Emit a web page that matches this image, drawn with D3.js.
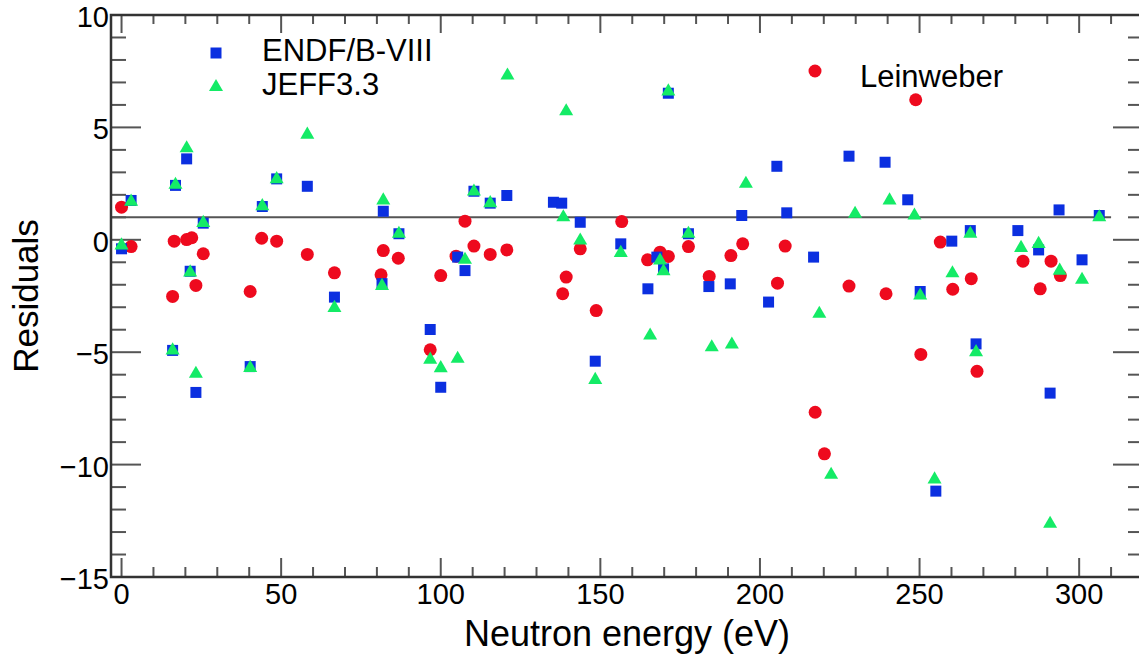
<!DOCTYPE html>
<html>
<head>
<meta charset="utf-8">
<script src="https://cdn.jsdelivr.net/npm/d3@7"></script>
<style>
  html, body { margin: 0; padding: 0; background: #fff; }
  svg { display: block; font-family: "Liberation Sans", Arial, Helvetica, sans-serif; }
</style>
</head>
<body>
<div id="chart"></div>
<script>
// ENDF/B-VIII residuals
const endfEnergy = [0.0, 3.0, 16.0, 16.9, 20.4, 21.5, 23.3, 25.6, 40.3, 44.1, 48.6, 58.2, 66.7, 81.6, 82.0, 86.9,
  96.7, 100.0, 105.3, 107.6, 110.4, 115.5, 120.7, 135.3, 137.9, 143.7, 148.4, 156.4, 164.9, 167.7, 169.8, 171.3,
  177.6, 184.0, 190.7, 194.3, 202.7, 205.3, 208.4, 216.8, 227.9, 239.2, 246.3, 250.2, 255.1, 260.1, 265.9, 267.7,
  280.8, 287.3, 290.9, 293.7, 300.9, 306.3];
const endfRes = [-0.4, 1.75, -4.92, 2.42, 3.6, -1.4, -6.79, 0.74, -5.64, 1.48, 2.71, 2.38, -2.55, -1.95, 1.27, 0.27,
  -3.99, -6.56, -0.77, -1.37, 2.16, 1.63, 1.97, 1.67, 1.63, 0.78, -5.4, -0.18, -2.18, -0.77, -1.29, 6.52,
  0.27, -2.08, -1.96, 1.08, -2.77, 3.27, 1.2, -0.77, 3.72, 3.45, 1.78, -2.3, -11.18, -0.06, 0.41, -4.63,
  0.41, -0.45, -6.82, 1.33, -0.89, 1.08];

// JEFF3.3 residuals
const jeffEnergy = [0.0, 3.0, 16.0, 16.9, 20.4, 21.5, 23.3, 25.6, 40.3, 44.1, 48.6, 58.2, 66.7, 81.6, 82.0, 86.9,
  96.7, 100.0, 105.3, 107.6, 110.4, 115.5, 120.9, 138.4, 139.3, 143.7, 148.4, 156.4, 165.6, 168.7, 169.8, 171.3,
  177.6, 184.9, 191.2, 195.6, 218.6, 222.3, 229.8, 240.6, 248.4, 250.2, 254.7, 260.3, 265.9, 267.7,
  281.8, 287.3, 290.9, 293.9, 300.9, 306.3];
const jeffRes = [-0.25, 1.7, -4.92, 2.45, 4.07, -1.45, -5.96, 0.75, -5.7, 1.5, 2.7, 4.68, -3.03, -2.05, 1.75, 0.27,
  -5.33, -5.71, -5.29, -0.89, 2.15, 1.63, 7.31, 1.0, 5.72, -0.03, -6.23, -0.58, -4.26, -0.92, -1.4, 6.6,
  0.27, -4.78, -4.66, 2.49, -3.29, -10.45, 1.16, 1.75, 1.08, -2.48, -10.66, -1.49, 0.27, -5.0,
  -0.36, -0.18, -12.63, -1.37, -1.78, 1.0];

// Leinweber residuals
const leinEnergy = [0.0, 3.0, 16.0, 16.5, 20.4, 22.0, 23.3, 25.6, 40.3, 43.9, 48.6, 58.2, 66.7, 81.3, 82.0, 86.7,
  96.7, 100.0, 104.8, 107.6, 110.4, 115.5, 120.7, 138.2, 139.3, 143.7, 148.7, 156.7, 164.8, 168.7, 171.3,
  177.6, 184.1, 190.9, 194.6, 205.5, 207.9, 217.3, 220.2, 227.9, 239.5, 248.8, 250.4, 256.5, 260.4, 266.2, 268.0,
  282.4, 287.8, 291.2, 294.1];
const leinRes = [1.45, -0.3, -2.52, -0.06, 0.01, 0.09, -2.03, -0.62, -2.3, 0.07, -0.06, -0.65, -1.47, -1.56, -0.48, -0.82,
  -4.89, -1.59, -0.73, 0.83, -0.28, -0.65, -0.45, -2.4, -1.66, -0.4, -3.15, 0.81, -0.89, -0.55, -0.74,
  -0.3, -1.63, -0.7, -0.18, -1.93, -0.28, -7.67, -9.52, -2.06, -2.4, 6.23, -5.1, -0.1, -2.2, -1.73, -5.85,
  -0.95, -2.18, -0.95, -1.59];

const xTicks = [0, 50, 100, 150, 200, 250, 300];
const yTicks = [-15, -10, -5, 0, 5, 10];
const refLevel = 1;

const W = 1139, H = 660;
const frameL = 111, frameR = 1143, frameT = 15, frameB = 577;

const x = d3.scaleLinear().domain([-3.3, 320]).range([frameL, frameR]);
const y = d3.scaleLinear().domain([-15, 10]).range([frameB, frameT]);

const svg = d3.select("#chart").append("svg").attr("width", W).attr("height", H);

const axisColor = "#333";
const tickColor = "#555";

// reference line
svg.append("line")
  .attr("x1", frameL).attr("x2", x(310))
  .attr("y1", y(refLevel)).attr("y2", y(refLevel))
  .attr("stroke", "#555").attr("stroke-width", 2);

// ticks on all four sides
const xMinor = d3.range(10, 320, 10).filter(v => v % 50 !== 0);
const tickG = svg.append("g").attr("stroke", tickColor).attr("stroke-width", 2);
xTicks.forEach(v => {
  tickG.append("line").attr("x1", x(v)).attr("x2", x(v)).attr("y1", frameB).attr("y2", frameB - 19);
  tickG.append("line").attr("x1", x(v)).attr("x2", x(v)).attr("y1", frameT).attr("y2", frameT + 18);
});
xMinor.forEach(v => {
  tickG.append("line").attr("x1", x(v)).attr("x2", x(v)).attr("y1", frameB).attr("y2", frameB - 10);
  tickG.append("line").attr("x1", x(v)).attr("x2", x(v)).attr("y1", frameT).attr("y2", frameT + 9);
});
const yMinor = d3.range(-14, 10, 1).filter(v => v % 5 !== 0);
yTicks.forEach(v => {
  tickG.append("line").attr("x1", frameL).attr("x2", frameL + 30).attr("y1", y(v)).attr("y2", y(v));
  tickG.append("line").attr("x1", frameR).attr("x2", frameR - 30).attr("y1", y(v)).attr("y2", y(v));
});
yMinor.forEach(v => {
  tickG.append("line").attr("x1", frameL).attr("x2", frameL + 15).attr("y1", y(v)).attr("y2", y(v));
  tickG.append("line").attr("x1", frameR).attr("x2", frameR - 15).attr("y1", y(v)).attr("y2", y(v));
});

// frame
svg.append("rect")
  .attr("x", frameL).attr("y", frameT)
  .attr("width", frameR - frameL).attr("height", frameB - frameT)
  .attr("fill", "none").attr("stroke", axisColor).attr("stroke-width", 2.5);

// tick labels
svg.append("g").selectAll("text").data(xTicks).enter().append("text")
  .attr("x", d => x(d)).attr("y", 604)
  .attr("text-anchor", "middle").attr("font-size", 29).attr("fill", "#000")
  .text(d => d);

svg.append("g").selectAll("text").data(yTicks).enter().append("text")
  .attr("x", 109).attr("y", d => y(d) + 12)
  .attr("text-anchor", "end").attr("font-size", 29).attr("fill", "#000")
  .text(d => d < 0 ? "\u2212" + Math.abs(d) : d);

// axis titles
svg.append("text")
  .attr("x", 627).attr("y", 646)
  .attr("text-anchor", "middle").attr("font-size", 36)
  .text("Neutron energy (eV)");

svg.append("text")
  .attr("transform", "translate(38,296) rotate(-90)")
  .attr("text-anchor", "middle").attr("font-size", 35)
  .text("Residuals");

// markers
const red = "#ee0a1e", blue = "#0b2fe0", green = "#14eb66";
const sq = d3.symbol().type(d3.symbolSquare).size(121);
const tri = d3.symbol().type(d3.symbolTriangle).size(85);

const plot = svg.append("g");

plot.selectAll("circle.lein").data(leinEnergy).enter().append("circle")
  .attr("class", "lein")
  .attr("cx", d => x(d)).attr("cy", (d, i) => y(leinRes[i]))
  .attr("r", 6.5).attr("fill", red);

plot.selectAll("path.endf").data(endfEnergy).enter().append("path")
  .attr("class", "endf")
  .attr("d", sq)
  .attr("transform", (d, i) => `translate(${x(d)},${y(endfRes[i])})`)
  .attr("fill", blue);

plot.selectAll("path.jeff").data(jeffEnergy).enter().append("path")
  .attr("class", "jeff")
  .attr("d", tri)
  .attr("transform", (d, i) => `translate(${x(d)},${y(jeffRes[i])})`)
  .attr("fill", green);

// legend
const legend = svg.append("g");
legend.append("path").attr("d", sq).attr("transform", "translate(216,53)").attr("fill", blue);
legend.append("text").attr("x", 262).attr("y", 61).attr("font-size", 31).text("ENDF/B-VIII");
legend.append("path").attr("d", tri).attr("transform", "translate(216,87)").attr("fill", green);
legend.append("text").attr("x", 262).attr("y", 95).attr("font-size", 31).text("JEFF3.3");
legend.append("circle").attr("cx", 815).attr("cy", 71).attr("r", 6.5).attr("fill", red);
legend.append("text").attr("x", 860).attr("y", 87).attr("font-size", 31).text("Leinweber");
</script>
</body>
</html>
